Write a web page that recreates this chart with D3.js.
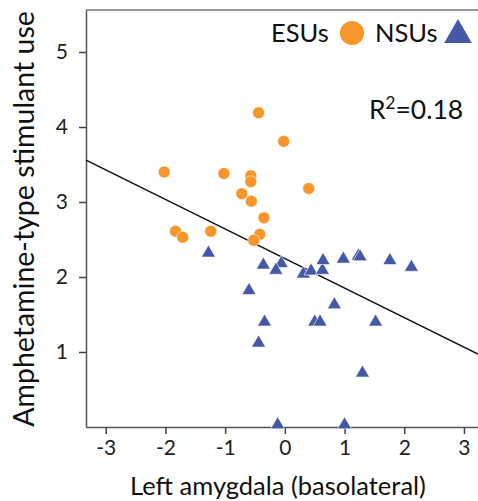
<!DOCTYPE html>
<html>
<head>
<meta charset="utf-8">
<script src="https://cdn.jsdelivr.net/npm/d3@7"></script>
<style>
  body { margin: 0; background: #fff; }
  svg { font-family: Lato, "Noto Sans", sans-serif; }
</style>
</head>
<body>
<svg width="478" height="501"></svg>
<script>
// ESUs (orange circles)
var esuX = [-0.44, -0.02, -2.02, -1.02, -0.57, -0.57, 0.40, -0.72, -0.56, -0.35, -1.83, -1.71, -1.24, -0.42, -0.52];
var esuY = [4.19, 3.81, 3.40, 3.38, 3.35, 3.27, 3.18, 3.11, 3.01, 2.79, 2.61, 2.53, 2.61, 2.57, 2.49];
// NSUs (blue triangles)
var nsuX = [-1.28, -0.36, -0.06, -0.15, 0.31, 0.44, 0.63, 0.64, 0.98, 1.23, 1.26, 1.76, 2.12, -0.60, 0.83, -0.34, 0.50, 0.59, 1.52, -0.44, 1.30, -0.12, 1.00];
var nsuY = [2.32, 2.16, 2.18, 2.09, 2.04, 2.08, 2.09, 2.22, 2.24, 2.28, 2.27, 2.22, 2.13, 1.82, 1.63, 1.40, 1.40, 1.40, 1.40, 1.12, 0.72, 0.03, 0.03];
var xTicks = [-3, -2, -1, 0, 1, 2, 3];
var yTicks = [1, 2, 3, 4, 5];
var fitIntercept = 2.247, fitSlope = -0.394;

var svg = d3.select("svg"),
    pLeft = 86, pRight = 478, pTop = 10, pBottom = 427;

var x = d3.scaleLinear().domain([-3.33, 3.235]).range([pLeft, pRight]);
var y = d3.scaleLinear().domain([0, 5.56]).range([pBottom, pTop]);

// frame top line
svg.append("line")
  .attr("x1", pLeft).attr("x2", pRight).attr("y1", pTop).attr("y2", pTop)
  .attr("stroke", "#777").attr("stroke-width", 1.5);

var fmt = function(d) { return d; };
var xAxis = svg.append("g")
  .attr("transform", "translate(0," + pBottom + ")")
  .call(d3.axisBottom(x).tickValues(xTicks).tickSize(7).tickSizeOuter(0).tickPadding(6).tickFormat(fmt));
var yAxis = svg.append("g")
  .attr("transform", "translate(" + pLeft + ",0)")
  .call(d3.axisLeft(y).tickValues(yTicks).tickSize(7).tickSizeOuter(0).tickPadding(11).tickFormat(fmt));

[xAxis, yAxis].forEach(function(a) {
  a.select(".domain").attr("stroke", "#555").attr("stroke-width", 1.5);
  a.selectAll(".tick line").attr("stroke", "#444").attr("stroke-width", 1.5);
  a.selectAll("text").attr("font-size", 21).attr("fill", "#222").attr("font-family", "Lato, sans-serif");
});

// regression line
svg.append("line")
  .attr("x1", x(-3.33)).attr("y1", y(fitIntercept + fitSlope * -3.33))
  .attr("x2", x(3.235)).attr("y2", y(fitIntercept + fitSlope * 3.235))
  .attr("stroke", "#111").attr("stroke-width", 1.5);

var orange = "#F7962B", blue = "#4458A7";

svg.selectAll(".esu")
  .data(d3.range(esuX.length)).enter()
  .append("circle")
  .attr("class", "esu")
  .attr("cx", function(i) { return x(esuX[i]); })
  .attr("cy", function(i) { return y(esuY[i]); })
  .attr("r", 6)
  .attr("fill", orange)
  .attr("stroke", "#fff").attr("stroke-width", 0.6);

var tri = d3.symbol().type(d3.symbolTriangle).size(85);
svg.selectAll(".nsu")
  .data(d3.range(nsuX.length)).enter()
  .append("path")
  .attr("class", "nsu")
  .attr("d", tri)
  .attr("transform", function(i) { return "translate(" + x(nsuX[i]) + "," + y(nsuY[i]) + ")"; })
  .attr("fill", blue)
  .attr("stroke", "#fff").attr("stroke-width", 0.6);

// legend
svg.append("text").attr("x", 271).attr("y", 42).attr("font-size", 25.5).attr("fill", "#111").text("ESUs");
svg.append("circle").attr("cx", 352).attr("cy", 33).attr("r", 12).attr("fill", orange);
svg.append("text").attr("x", 375).attr("y", 42).attr("font-size", 25.5).attr("fill", "#111").text("NSUs");
svg.append("path")
  .attr("d", d3.symbol().type(d3.symbolTriangle).size(330))
  .attr("transform", "translate(458,35)")
  .attr("fill", blue);

// R squared
var r2 = svg.append("text").attr("x", 369).attr("y", 119).attr("font-size", 26.5).attr("fill", "#111");
r2.append("tspan").text("R");
r2.append("tspan").attr("dy", -10).attr("font-size", 17).text("2");
r2.append("tspan").attr("dy", 10).text("=0.18");

// axis titles
svg.append("text")
  .attr("x", 278).attr("y", 495)
  .attr("text-anchor", "middle").attr("font-size", 25.5).attr("fill", "#111")
  .text("Left amygdala (basolateral)");
svg.append("text")
  .attr("transform", "translate(34,219) rotate(-90)")
  .attr("text-anchor", "middle").attr("font-size", 28.5).attr("fill", "#111")
  .text("Amphetamine-type stimulant use");
</script>
</body>
</html>
